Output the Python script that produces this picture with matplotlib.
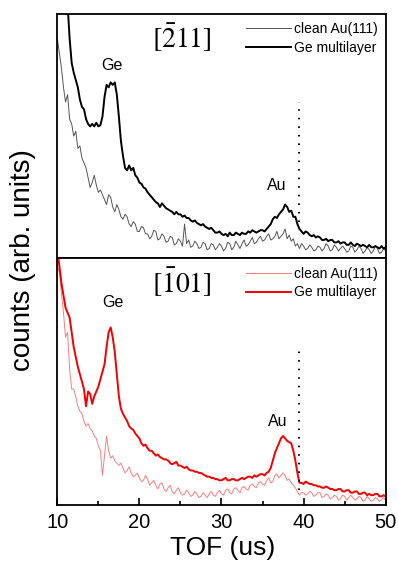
import numpy as np
import matplotlib.pyplot as plt

plt.rcParams['font.family'] = ['Liberation Sans', 'DejaVu Sans']
plt.rcParams['mathtext.fontset'] = 'stix'

# time of flight axis (us), 0.25 us steps
tof = np.linspace(10, 50, 161)

# [-211] direction
clean_211 = [90, 84, 78, 70, 64, 67, 57, 55,
             50, 52, 45, 46, 41, 39, 37, 33,
             29, 31, 34, 30, 27, 28, 26, 24,
             22, 26, 25, 21, 19, 22, 20, 17,
             16, 18, 17, 14, 13, 15, 14, 11,
             11, 13, 12.5, 10, 10, 8, 9, 11.5,
             11, 7.5, 8, 10, 9, 6.5, 7, 9,
             8.5, 5.5, 6, 8, 7, 5, 14, 6,
             7.5, 4.5, 5, 7, 6, 4, 4.5, 6.5,
             6, 3.5, 4, 6, 5.5, 3.5, 4.5, 6,
             5, 3, 4, 6.5, 6, 3.5, 4.5, 7,
             5.5, 4, 6, 7.5, 5, 5.5, 7, 8.5,
             6, 6.5, 8, 9, 7, 7.5, 9, 10,
             7.5, 8, 9, 11, 8, 9, 10, 12,
             8, 9.5, 7, 8, 5, 6, 4, 6,
             5, 3.5, 4, 5.5, 4.5, 3, 3.5, 5,
             4.5, 3, 4, 6, 5, 3, 3.5, 5.5,
             4.5, 3, 4, 5, 4, 2.5, 3, 5,
             4.5, 2.5, 3.5, 5, 4, 2, 3, 4.5,
             3.5, 2, 3, 5, 4, 2, 2.5, 4,
             3]
ge_211 = [170, 160, 145, 130, 118, 104, 90, 80,
          76, 73, 70, 65, 62, 61, 57, 55,
          54, 55, 54, 55.5, 54, 54.5, 58, 66,
          71, 70, 72, 71, 72, 67, 58, 48,
          42, 37, 36, 38, 36, 37, 34, 33,
          31, 30.5, 29, 28.5, 27, 26, 25, 24,
          23, 22.5, 21, 22.5, 21.5, 20.5, 20, 19.5,
          19, 18, 19, 18, 18, 17, 17.5, 16.5,
          16.5, 15.5, 15, 15.5, 14.5, 14, 13.5, 14,
          13, 12.5, 12, 12.5, 11.5, 10.5, 10.5, 11,
          10, 9.5, 10, 9, 10.5, 9.5, 9.5, 10.5,
          10, 9.5, 10.5, 10, 10, 11, 10.5, 11.5,
          11, 10.5, 11, 11.5, 11.5, 11, 12, 13,
          14, 16, 17, 16.5, 18, 19, 20, 22,
          21, 19, 19.5, 17, 17, 14, 12, 11,
          10, 11, 10.5, 9.5, 9, 9.5, 8.5, 9,
          8.5, 7.5, 7.5, 8, 7, 7.5, 7.5, 6.5,
          6.5, 7, 6, 6.5, 6.5, 5.5, 5.5, 6.5,
          5.5, 5, 6, 5.5, 5, 5.5, 5, 4.5,
          5.5, 4.5, 4.5, 5, 4.5, 4, 5, 4,
          4.5]

# [-101] direction
clean_101 = [97, 94, 86, 78, 68, 70, 55, 47,
             47, 44, 40, 38, 37, 34, 32, 33,
             31, 30, 28, 27, 24, 22, 12, 20,
             28, 22, 19, 20, 18, 17, 16, 17,
             15, 13, 14, 15.5, 13, 11.5, 12, 13,
             11, 9.5, 10, 12, 10.5, 8, 9, 10,
             8, 6.5, 8.5, 9, 6.5, 5.5, 7, 8,
             5.5, 4.5, 6, 7, 5, 4, 4.5, 6,
             5, 3.5, 4, 5.5, 4.5, 3, 3.5, 5,
             4, 3, 4.5, 5.5, 4, 3.5, 5, 6,
             4.5, 4, 6, 6.5, 5, 4.5, 6.5, 7,
             6, 5, 7, 7.5, 6.5, 6, 8, 8.5,
             7.5, 7, 9, 9.5, 8.5, 8, 10, 11,
             9, 9.5, 12, 12.5, 11, 12, 13, 12,
             10, 10.5, 9, 8, 7, 5.5, 4, 5,
             5, 4, 4.5, 5.5, 5, 3.5, 4, 5,
             5, 3, 3.5, 4.5, 4, 2.5, 3, 4,
             3.5, 2, 2.5, 4, 3.5, 2, 3, 4,
             3, 2, 2.5, 3.5, 3, 1.5, 2, 3.5,
             2.5, 1.5, 2, 3, 2.5, 1.5, 2, 3,
             2]
ge_101 = [103, 97, 90, 85, 80, 78, 76, 70,
          64, 60, 56, 53, 50, 47, 40, 46,
          45, 41, 44, 46, 48, 51, 54, 57,
          64, 70, 72, 68, 62, 53, 44, 39,
          37, 35.5, 34, 32, 31, 30.5, 29, 28,
          27, 25, 24, 24.5, 23, 22, 22, 21,
          20, 20.5, 19.5, 19, 18.5, 18.5, 18, 17,
          16.5, 17, 17.5, 16, 16, 15.5, 15, 15.5,
          14.5, 14, 14, 13.5, 13.5, 13, 13, 12.5,
          12, 11.5, 11.5, 11, 11, 10.5, 10.5, 10,
          10, 10.5, 11, 10, 10, 10.5, 10.5, 10,
          10, 10.5, 11, 10.5, 11, 11.5, 11.5, 11,
          12, 11.5, 12, 12.5, 12.5, 12, 13, 13.5,
          15, 18, 21, 23, 25, 27, 28, 27,
          26, 25.5, 25, 22, 18, 13, 9, 9,
          8.5, 9.5, 9, 8.5, 8.5, 8, 8, 7.5,
          7.5, 7, 7, 7.5, 7, 6.5, 6.5, 6,
          6, 6.5, 6.5, 5.5, 5.5, 6, 6, 5,
          5, 5.5, 5.5, 4.5, 4.5, 5, 5, 4,
          4.5, 4, 4, 4.5, 4.5, 3.5, 3.5, 4,
          3.5]

fig = plt.figure(figsize=(3.98, 5.61), dpi=100)
ax1 = fig.add_axes([0.144, 0.5396, 0.825, 0.4354])
ax2 = fig.add_axes([0.144, 0.0998, 0.825, 0.4398])

panels = [
    (ax1, clean_211, ge_211, '#555555', 'black', r'$[\bar{2}11]$', (16.6, 79), (36.7, 30), (15, 64)),
    (ax2, clean_101, ge_101, '#f58080', '#f00000', r'$[\bar{1}01]$', (16.8, 82), (36.9, 34), (6, 64)),
]

for ax, clean, ge, c_clean, c_ge, title, ge_pos, au_pos, dots in panels:
    ax.plot(tof, clean, color=c_clean, lw=0.7, label='clean Au(111)')
    ax.plot(tof, ge, color=c_ge, lw=1.4, label='Ge multilayer')
    ax.plot([39.5, 39.5], dots, color='black', lw=1.4, ls=(0, (0.8, 3.6)))
    ax.set_xlim(10, 50)
    ax.set_ylim(0, 100)
    ax.set_yticks([])
    ax.text(25.2, 90, title, fontsize=20, ha='center', va='center')
    ax.text(ge_pos[0], ge_pos[1], 'Ge', fontsize=11.5, ha='center', va='center')
    ax.text(au_pos[0], au_pos[1], 'Au', fontsize=11.5, ha='center', va='center')
    ax.legend(loc='upper right', frameon=False, fontsize=10, handlelength=3.2,
              handletextpad=0.2, labelspacing=0.35, borderaxespad=0.2)
    for s in ax.spines.values():
        s.set_linewidth(1.3)
    ax.set_xticks([10, 20, 30, 40, 50])
    ax.set_xticks([15, 25, 35, 45], minor=True)
    ax.tick_params(axis='x', which='both', direction='in', width=1.2, labelsize=14.5, pad=6)
    ax.tick_params(axis='x', which='major', length=5)
    ax.tick_params(axis='x', which='minor', length=3)

ax1.tick_params(axis='x', which='both', labelbottom=False, length=0)

fig.text(0.559, 1 - 555 / 561, 'TOF (us)', fontsize=19, ha='center', va='baseline')
fig.text(0.058, 0.536, 'counts (arb. units)', fontsize=20, rotation=90, ha='center', va='center')

plt.savefig('out.png', dpi=100)
